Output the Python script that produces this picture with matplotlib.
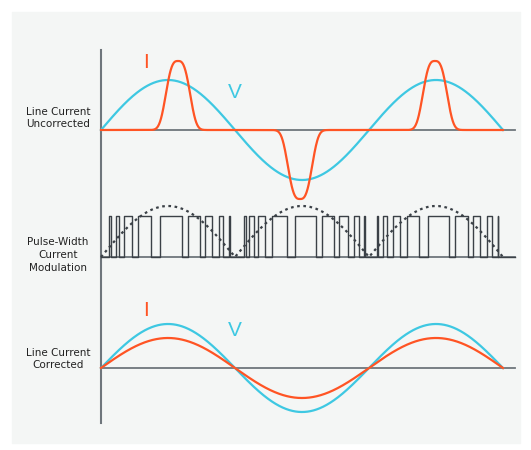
import numpy as np
import matplotlib
matplotlib.use("Agg")
import matplotlib.pyplot as plt
from matplotlib.patches import Rectangle

# --- data (pixel-space schematic) ---
x_start, x_end = 101, 503
half_period = 134
top_base, top_v_amp, top_i_amp = 130, 50, 69
pulse_centers = [178, 300, 435]
pulse_signs = [1, -1, 1]
pulse_width = 40
mid_base, mid_top, mid_env_amp = 257, 216, 51
pwm_on = [109, 115.7, 124.3, 138.3, 160, 187.7, 205, 219, 229.3, 244.3, 249, 258.3, 271.7, 295,
          322.3, 339.3, 354.3, 364.3, 377.3, 383.3, 392.7, 406.7, 428.3, 455, 472.7, 487.3, 497.7]
pwm_off = [111, 119.3, 131.7, 150.7, 181.7, 200, 212.3, 223.3, 230, 245.7, 254.3, 265, 286.7, 316,
           334.3, 347.7, 359, 365, 377.8, 387.3, 400, 419, 449, 467.7, 480, 491.7, 498.2]
bot_base, bot_v_amp, bot_i_amp = 368, 44, 30
labels = ["Line Current\nUncorrected", "Pulse-Width\nCurrent\nModulation", "Line Current\nCorrected"]
label_y = [118, 255, 359]

BLUE = "#3ec8e2"
ORANGE = "#ff5424"
DARK = "#3b4147"
GRAY = "#6f767c"

fig = plt.figure(figsize=(5.31, 4.5), dpi=100)
ax = fig.add_axes([0, 0, 1, 1])
ax.set_xlim(0, 531)
ax.set_ylim(450, 0)
ax.axis("off")
ax.add_patch(Rectangle((12, 12), 508, 431, color="#f4f6f5", zorder=0))

x = np.linspace(x_start, x_end, 1200)
s = np.sin(np.pi * (x - x_start) / half_period)

# axes lines
ax.plot([101, 101], [50, 423], color=GRAY, lw=1.5, zorder=1)
for yb in (top_base, mid_base, bot_base):
    ax.plot([101, 515], [yb, yb], color=GRAY, lw=1.3, zorder=1)

# top section
ax.plot(x, top_base - top_v_amp * s, color=BLUE, lw=1.6, zorder=2)
cur = np.zeros_like(x)
for c, sg in zip(pulse_centers, pulse_signs):
    u = (x - c) / (pulse_width / 2)
    cur += sg * np.exp(-np.abs(u / 0.7) ** 3)
ax.plot(x, top_base - top_i_amp * cur, color=ORANGE, lw=1.6, zorder=3)
ax.text(146, 63, "I", color=ORANGE, fontsize=15, ha="center", va="center", family="Liberation Sans")
ax.text(235, 92, "V", color=BLUE, fontsize=15, ha="center", va="center", family="Liberation Sans")

# middle PWM
px, py = [x_start], [mid_base]
for a, b in zip(pwm_on, pwm_off):
    px += [a, a, b, b]
    py += [mid_base, mid_top, mid_top, mid_base]
px.append(515); py.append(mid_base)
ax.plot(px, py, color=DARK, lw=1.0, zorder=2)
ax.plot(x, mid_base - mid_env_amp * np.abs(s), color=DARK, lw=1.6, ls=(0, (1.2, 1.6)), zorder=3)

# bottom
ax.plot(x, bot_base - bot_v_amp * s, color=BLUE, lw=1.6, zorder=2)
ax.plot(x, bot_base - bot_i_amp * s, color=ORANGE, lw=1.6, zorder=3)
ax.text(146, 310, "I", color=ORANGE, fontsize=15, ha="center", va="center", family="Liberation Sans")
ax.text(235, 330, "V", color=BLUE, fontsize=15, ha="center", va="center", family="Liberation Sans")

for t, yy in zip(labels, label_y):
    ax.text(58, yy, t, fontsize=7.5, ha="center", va="center", color="#222222", linespacing=1.35)

fig.savefig("out.png", dpi=100)
